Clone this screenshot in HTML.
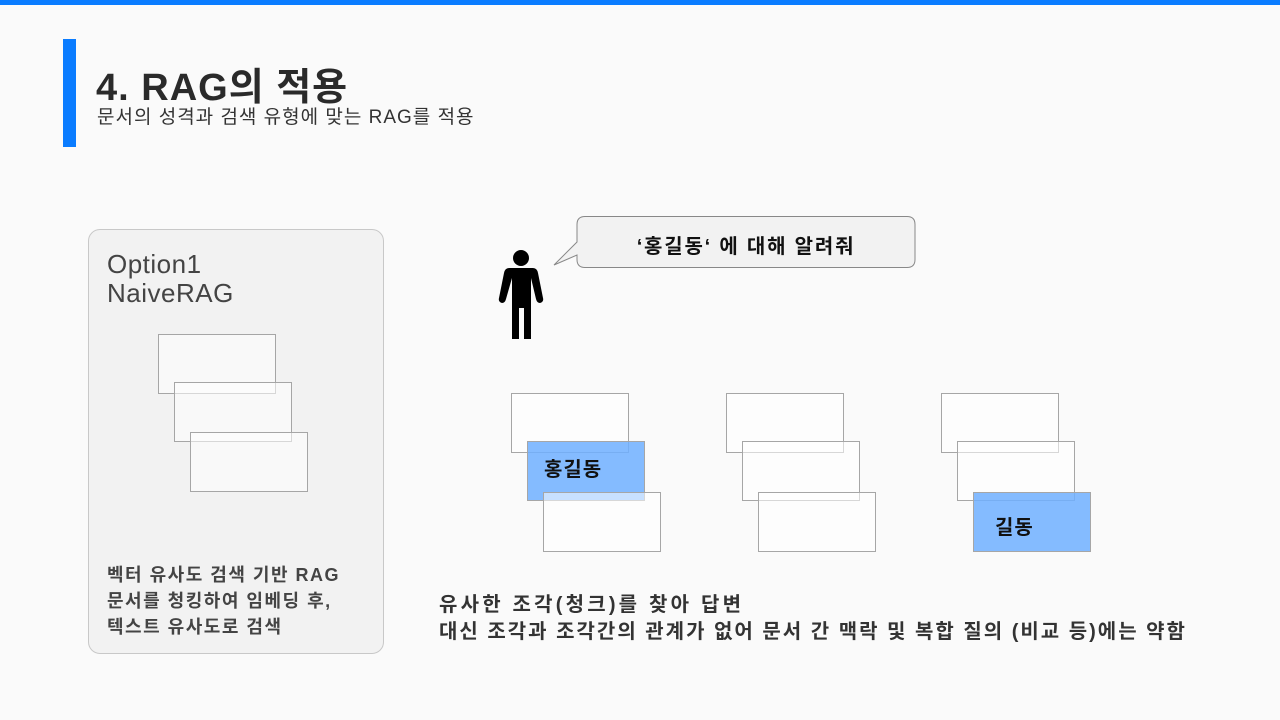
<!DOCTYPE html>
<html><head><meta charset="utf-8"><style>
body{margin:0;width:1280px;height:720px;background:#fafafa;position:relative;overflow:hidden;font-family:"Liberation Sans","Noto Sans CJK KR",sans-serif;color:#222}
.a{position:absolute;white-space:nowrap}
.r{position:absolute;width:116px;height:58px;border:1px solid #a6a6a6;background:rgba(255,255,255,0.55)}
.b{background:rgba(110,175,255,0.85)}
</style></head><body>
<div class="a" style="left:0;top:0;width:1280px;height:5px;background:#0a7cff"></div>
<div class="a" style="left:63px;top:39px;width:13px;height:108px;background:#0a7cff"></div>
<div class="a" style="left:96px;top:56px;font-size:38px;font-weight:bold;color:#2a2a2a;letter-spacing:1px">4. RAG의 적용</div>
<div class="a" style="left:97px;top:102px;font-size:19px;color:#333;letter-spacing:1px">문서의 성격과 검색 유형에 맞는 RAG를 적용</div>

<div class="a" style="left:88px;top:229px;width:294px;height:423px;border:1px solid #c8c8c8;border-radius:12px;background:#f2f2f2"></div>
<div class="a" style="left:107px;top:250px;font-size:26px;line-height:29px;color:#444;letter-spacing:0.5px">Option1<br>NaiveRAG</div>
<div class="r" style="left:158px;top:334px"></div>
<div class="r" style="left:174px;top:382px"></div>
<div class="r" style="left:190px;top:432px"></div>
<div class="a" style="left:107px;top:562px;font-size:18px;font-weight:bold;line-height:26px;color:#444;letter-spacing:1.5px">벡터 유사도 검색 기반 RAG<br>문서를 청킹하여 임베딩 후,<br>텍스트 유사도로 검색</div>

<svg class="a" style="left:495px;top:246px" width="50" height="95" viewBox="0 0 50 95">
<circle cx="26" cy="12" r="8" fill="#000"/>
<path d="M14 22 H38 Q42 22 43 27 L48 52 Q49 56 45 57 Q42 57 41 53 L36 32 V93 H29 V62 H24 V93 H17 V32 L11 53 Q10 57 7 57 Q3 56 4 52 L9 27 Q10 22 14 22Z" fill="#000"/>
</svg>
<svg class="a" style="left:550px;top:215px" width="370" height="56">
<path d="M35 1.5 H357 Q365 1.5 365 9.5 V44.5 Q365 52.5 357 52.5 H35 Q27 52.5 27 44.5 V40 L4 50 L27 27 V9.5 Q27 1.5 35 1.5Z" fill="#f2f2f2" stroke="#888" stroke-width="1"/>
</svg>
<div class="a" style="left:577px;top:230px;width:338px;text-align:center;font-size:20px;font-weight:bold;color:#111;letter-spacing:1.8px">‘홍길동‘ 에 대해 알려줘</div>

<div class="r" style="left:511px;top:393px"></div>
<div class="r b" style="left:527px;top:441px"></div>
<div class="r" style="left:543px;top:492px"></div>
<div class="a" style="left:544px;top:453px;font-size:20px;font-weight:bold;color:#111;letter-spacing:1px">홍길동</div>

<div class="r" style="left:726px;top:393px"></div>
<div class="r" style="left:742px;top:441px"></div>
<div class="r" style="left:758px;top:492px"></div>

<div class="r" style="left:941px;top:393px"></div>
<div class="r" style="left:957px;top:441px"></div>
<div class="r b" style="left:973px;top:492px"></div>
<div class="a" style="left:995px;top:511px;font-size:20px;font-weight:bold;color:#111;letter-spacing:1px">길동</div>

<div class="a" style="left:439px;top:592px;font-size:20px;font-weight:bold;line-height:27px;color:#333">
<div style="letter-spacing:3.2px">유사한 조각(청크)를 찾아 답변</div>
<div style="letter-spacing:2px">대신 조각과 조각간의 관계가 없어 문서 간 맥락 및 복합 질의 (비교 등)에는 약함</div>
</div>
</body></html>
